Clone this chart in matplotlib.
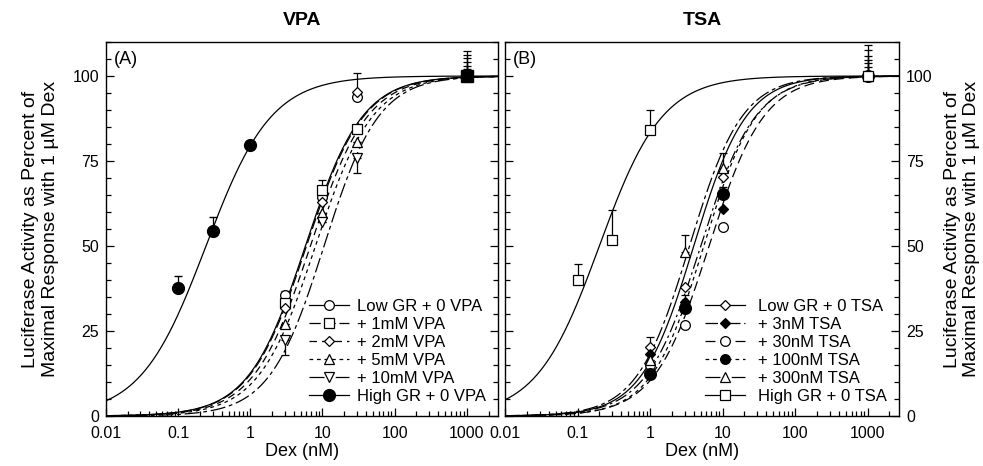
import numpy as np
import matplotlib
matplotlib.use('Agg')
import matplotlib.pyplot as plt
from matplotlib.lines import Line2D
from matplotlib.ticker import MultipleLocator, LogLocator, FixedLocator

plt.rcParams['font.family'] = ['Liberation Sans', 'DejaVu Sans']

# ---- data ----
dex_vpa = [3, 10, 30, 1000]
vpa_labels = ['Low GR + 0 VPA', '+ 1mM VPA', '+ 2mM VPA', '+ 5mM VPA', '+ 10mM VPA']
vpa_values = [
    [35.6, 64.4, 93.8, 100],   # low GR + 0 VPA
    [33.2, 66.5, 84.4, 100],   # 1 mM
    [31.8, 63.0, 95.3, 100],   # 2 mM
    [27.0, 59.7, 80.6, 100],   # 5 mM
    [22.4, 57.0, 75.9, 100],   # 10 mM
]
vpa_err_up = [
    [0, 0, 7.0, 7.4],
    [3.5, 3.0, 0, 6.2],
    [0, 0, 0, 5.3],
    [0, 0, 0, 4.1],
    [0, 0, 0, 3.0],
]
vpa_err_down = [
    [0, 0, 0, 0],
    [0, 0, 0, 0],
    [0, 0, 0, 0],
    [0, 0, 0, 0],
    [4.5, 0, 4.5, 0],
]
vpa_ec50 = [5.8, 6.0, 6.8, 8.0, 10.5]
vpa_hill = [1.1, 1.1, 1.1, 1.1, 1.15]

dex_high_vpa = [0.1, 0.3, 1, 1000]
high_vpa_values = [37.6, 54.4, 79.7, 100]
high_vpa_err = [3.5, 4.0, 0, 2.0]
high_vpa_ec50 = 0.243
high_vpa_hill = 0.96

dex_tsa = [1, 3, 10, 1000]
tsa_labels = ['Low GR + 0 TSA', '+ 3nM TSA', '+ 30nM TSA', '+ 100nM TSA', '+ 300nM TSA']
tsa_values = [
    [20.3, 38.0, 70.4, 100],   # low GR + 0 TSA
    [18.2, 33.5, 60.9, 100],   # 3 nM
    [15.0, 26.8, 55.6, 100],   # 30 nM
    [12.4, 31.8, 65.3, 100],   # 100 nM
    [16.5, 48.3, 73.0, 100],   # 300 nM
]
tsa_err_up = [
    [2.8, 0, 2.5, 9.0],
    [0, 0, 0, 7.6],
    [0, 0, 0, 6.0],
    [0, 3.8, 2.0, 4.7],
    [0, 4.8, 4.4, 3.8],
]
tsa_ec50 = [4.0, 5.0, 6.5, 5.5, 3.5]
tsa_hill = [1.2, 1.15, 1.15, 1.2, 1.2]

dex_high_tsa = [0.1, 0.3, 1, 1000]
high_tsa_values = [40.0, 51.8, 84.1, 100]
high_tsa_err = [4.7, 8.8, 5.9, 2.6]
high_tsa_ec50 = 0.2
high_tsa_hill = 1.0

# ---- styles ----
vpa_markers = ['o', 's', 'D', '^', 'v']
vpa_ls = ['-', (0, (9, 3)), (0, (6, 4)), (0, (3, 3)), (0, (12, 3, 3, 3))]
tsa_markers = ['D', 'D', 'o', 'o', '^']
tsa_fill = ['white', 'black', 'white', 'black', 'white']
tsa_ls = ['-', (0, (10, 3, 2, 3)), (0, (8, 4)), (0, (3, 3)), (0, (12, 3, 3, 3))]
msize = {'o': 7, 's': 7, 'D': 5.5, '^': 7, 'v': 7}


def hill(x, ec50, n):
    return 100.0 / (1.0 + (ec50 / x) ** n)


xs = np.logspace(-2, np.log10(3000), 400)

fig = plt.figure(figsize=(9.83, 4.66), dpi=100)
axA = fig.add_axes([0.1078, 0.1073, 0.3988, 0.8026])
axB = fig.add_axes([0.5137, 0.1073, 0.4008, 0.8026])


def style_axis(ax):
    ax.set_xscale('log')
    ax.set_xlim(0.01, 2700)
    ax.set_ylim(0, 110)
    ax.xaxis.set_major_locator(FixedLocator([0.01, 0.1, 1, 10, 100, 1000]))
    ax.xaxis.set_minor_locator(LogLocator(base=10, subs=np.arange(2, 10), numticks=20))
    ax.set_xticklabels(['0.01', '0.1', '1', '10', '100', '1000'])
    ax.yaxis.set_major_locator(MultipleLocator(25))
    ax.yaxis.set_minor_locator(MultipleLocator(5))
    ax.tick_params(which='both', direction='in', left=True, right=True, top=False,
                   labelsize=11.5, width=0.9)
    ax.tick_params(which='major', length=6, pad=5)
    ax.tick_params(axis='x', which='major', pad=7)
    ax.tick_params(which='minor', length=3.5)
    for s in ax.spines.values():
        s.set_linewidth(1.0)
    ax.set_xlabel('Dex (nM)', fontsize=13, labelpad=2)


ylabel = 'Luciferase Activity as Percent of\nMaximal Response with 1 \u00b5M Dex'

# ---- panel A: VPA ----
style_axis(axA)
axA.tick_params(axis='y', labelleft=True, labelright=False)
axA.set_ylabel(ylabel, fontsize=14, labelpad=10)
axA.set_title('VPA', fontsize=14, fontweight='bold', pad=12)
axA.text(0.013, 103.5, '(A)', fontsize=13)

handlesA = []
for i in range(5):
    axA.plot(xs, hill(xs, vpa_ec50[i], vpa_hill[i]), color='k', lw=0.9, ls=vpa_ls[i])
    axA.errorbar(dex_vpa, vpa_values[i], yerr=[vpa_err_down[i], vpa_err_up[i]],
                 fmt=vpa_markers[i], ms=msize[vpa_markers[i]], mfc='white', mec='k',
                 mew=0.9, ecolor='k', elinewidth=0.9, capsize=3, zorder=3)
    handlesA.append(Line2D([], [], color='k', lw=0.9, ls=vpa_ls[i], marker=vpa_markers[i],
                           ms=msize[vpa_markers[i]], mfc='white', mec='k', mew=0.9))
axA.plot(xs, hill(xs, high_vpa_ec50, high_vpa_hill), color='k', lw=0.9)
axA.errorbar(dex_high_vpa, high_vpa_values, yerr=[[0] * 4, high_vpa_err], fmt='o', ms=8.5,
             mfc='k', mec='k', ecolor='k', elinewidth=0.9, capsize=3, zorder=4)
axA.plot([1000], [100], marker='s', ms=9, color='k', zorder=5)
handlesA.append(Line2D([], [], color='k', lw=0.9, marker='o', ms=8.5, mfc='k', mec='k'))
axA.legend(handlesA, vpa_labels + ['High GR + 0 VPA'], loc='lower right',
           bbox_to_anchor=(1.0, 0.0), frameon=False, fontsize=12, handlelength=2.4,
           handletextpad=0.5, labelspacing=0.18, borderaxespad=0.3)

# ---- panel B: TSA ----
style_axis(axB)
axB.tick_params(axis='y', labelleft=False, labelright=True)
axB.yaxis.set_label_position('right')
axB.set_ylabel(ylabel, fontsize=14, labelpad=8, rotation=90)
axB.set_title('TSA', fontsize=14, fontweight='bold', pad=12)
axB.text(0.013, 103.5, '(B)', fontsize=13)

handlesB = []
for i in range(5):
    axB.plot(xs, hill(xs, tsa_ec50[i], tsa_hill[i]), color='k', lw=0.9, ls=tsa_ls[i])
    mk = tsa_markers[i]
    axB.errorbar(dex_tsa, tsa_values[i], yerr=[[0] * 4, tsa_err_up[i]],
                 fmt=mk, ms=msize[mk] + (1.5 if tsa_fill[i] == 'black' and mk == 'o' else 0),
                 mfc=tsa_fill[i], mec='k', mew=0.9, ecolor='k', elinewidth=0.9,
                 capsize=3, zorder=3)
    handlesB.append(Line2D([], [], color='k', lw=0.9, ls=tsa_ls[i], marker=mk,
                           ms=msize[mk], mfc=tsa_fill[i], mec='k', mew=0.9))
axB.plot(xs, hill(xs, high_tsa_ec50, high_tsa_hill), color='k', lw=0.9)
axB.errorbar(dex_high_tsa, high_tsa_values, yerr=[[0] * 4, high_tsa_err], fmt='s', ms=7,
             mfc='white', mec='k', mew=0.9, ecolor='k', elinewidth=0.9, capsize=3, zorder=4)
handlesB.append(Line2D([], [], color='k', lw=0.9, marker='s', ms=7, mfc='white', mec='k',
                       mew=0.9))
axB.legend(handlesB, tsa_labels + ['High GR + 0 TSA'], loc='lower right',
           bbox_to_anchor=(1.0, 0.0), frameon=False, fontsize=12, handlelength=2.4,
           handletextpad=0.8, labelspacing=0.18, borderaxespad=0.3)

fig.savefig('out.png', dpi=100)
